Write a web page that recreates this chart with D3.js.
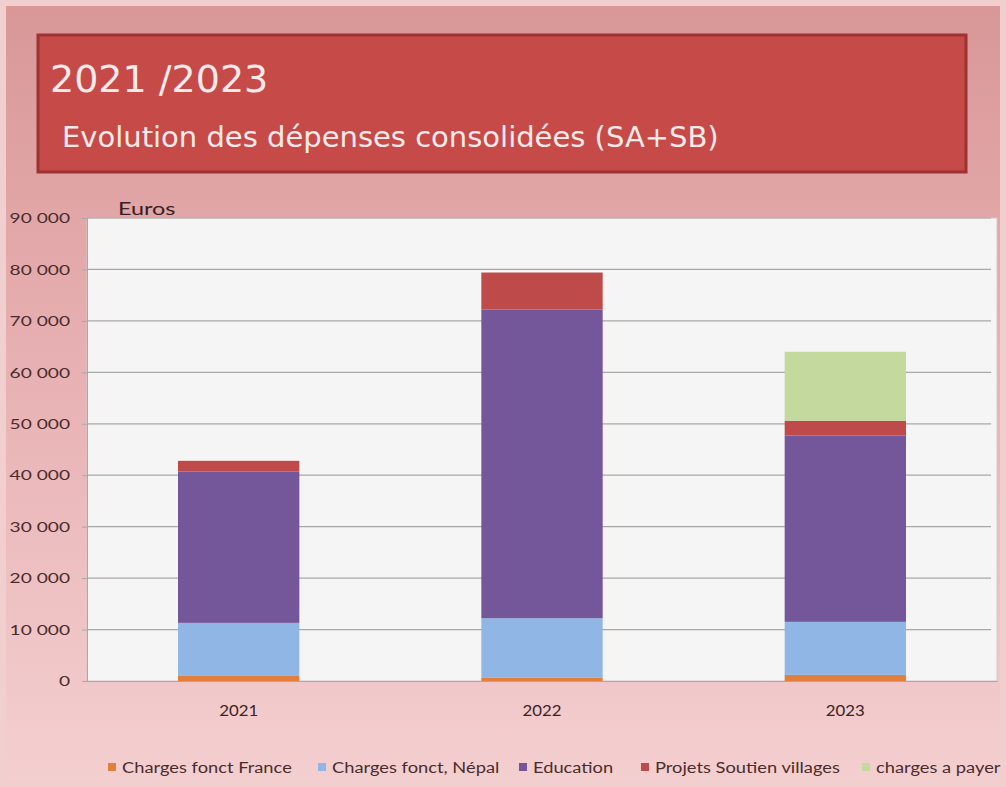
<!DOCTYPE html>
<html>
<head>
<meta charset="utf-8">
<script src="https://cdn.jsdelivr.net/npm/d3@7"></script>
<style>
  body { margin: 0; background: #f3d4d4; }
  svg { display: block; }
</style>
</head>
<body>
<svg width="1006" height="787"></svg>
<script>
//data
const years = ['2021', '2022', '2023'];
const seriesNames = ['Charges fonct France', 'Charges fonct, Népal', 'Education', 'Projets Soutien villages', 'charges a payer'];
const franceVals = [1100, 700, 1200];
const nepalVals = [10200, 11500, 10300];
const educationVals = [29400, 60000, 36200];
const projetsVals = [2100, 7200, 2900];
const aPayerVals = [0, 0, 13400];
const yTicks = [0, 10000, 20000, 30000, 40000, 50000, 60000, 70000, 80000, 90000];
const colors = ['#e37f3c', '#8fb6e4', '#74569a', '#be4b4a', '#c3d99d'];

const svg = d3.select('svg');
const W = 1006, H = 787;

// the source picture is stretched sideways, so text gets a horizontal scale
const wideText = (sel, px, py, sx) => sel.attr('transform', `translate(${px},${py}) scale(${sx},1)`);

// background
const defs = svg.append('defs');
const bg = defs.append('linearGradient').attr('id', 'bg').attr('x1', 0).attr('y1', 0).attr('x2', 0).attr('y2', 1);
bg.append('stop').attr('offset', '0%').attr('stop-color', '#d99797');
bg.append('stop').attr('offset', '45%').attr('stop-color', '#e7b0b2');
bg.append('stop').attr('offset', '100%').attr('stop-color', '#f4cfd0');
svg.append('rect').attr('width', W).attr('height', H).attr('fill', '#f1cfcf');
svg.append('rect').attr('x', 6).attr('y', 6).attr('width', W - 12).attr('height', H - 12).attr('fill', 'url(#bg)');

// title box
svg.append('rect').attr('x', 38).attr('y', 35).attr('width', 928).attr('height', 137)
  .attr('fill', '#c54a48').attr('stroke', '#9c3232').attr('stroke-width', 3);
svg.append('text').attr('x', 50).attr('y', 92).text('2021 /2023')
  .attr('fill', '#fbeaea').attr('font-family', 'DejaVu Sans').attr('font-size', 38);
svg.append('text').attr('x', 62).attr('y', 147).text('Evolution des dépenses consolidées (SA+SB)')
  .attr('fill', '#fbeaea').attr('font-family', 'DejaVu Sans').attr('font-size', 29);

// plot area
const pLeft = 87, pRight = 997, pTop = 218, pBottom = 681;
svg.append('rect').attr('x', pLeft).attr('y', pTop).attr('width', pRight - pLeft).attr('height', pBottom - pTop)
  .attr('fill', '#f5f5f6').attr('stroke', '#d8c8c8');

const x = d3.scaleBand().domain(years).range([pLeft, pRight]).paddingInner(0.6).paddingOuter(0.3);
const y = d3.scaleLinear().domain([0, 90000]).range([pBottom, pTop]);

// gridlines
svg.append('g').selectAll('line').data(yTicks.slice(1)).join('line')
  .attr('x1', pLeft).attr('x2', pRight - 6)
  .attr('y1', d => y(d)).attr('y2', d => y(d))
  .attr('stroke', '#a8a8a8').attr('stroke-width', 1.2);

// y axis
const yAxis = svg.append('g').attr('transform', `translate(${pLeft},0)`)
  .call(d3.axisLeft(y).tickValues(yTicks).tickSize(5).tickPadding(12)
    .tickFormat(d => d3.format(',')(d).replace(/,/g, ' ')));
yAxis.select('.domain').attr('stroke', '#a8a8a8');
yAxis.selectAll('line').attr('stroke', '#a8a8a8');
yAxis.selectAll('text')
  .attr('font-family', 'Lato').attr('font-size', 13.5).attr('fill', '#4a2c2c')
  .attr('x', null).attr('dy', '0.35em')
  .each(function () { wideText(d3.select(this), -17, 0, 1.42); });

// x axis
const xAxis = svg.append('g').attr('transform', `translate(0,${pBottom})`)
  .call(d3.axisBottom(x).tickSize(0).tickPadding(20));
xAxis.select('.domain').attr('stroke', '#a8a8a8').attr('stroke-width', 1.2);
xAxis.selectAll('text').attr('font-family', 'Lato').attr('font-size', 15).attr('fill', '#3a2424')
  .attr('y', null).attr('dy', null)
  .each(function () { wideText(d3.select(this), 0, 35, 1.12); });

// stacked bars
const table = years.map((yr, i) => ({
  year: yr,
  s0: franceVals[i], s1: nepalVals[i], s2: educationVals[i], s3: projetsVals[i], s4: aPayerVals[i]
}));
const stack = d3.stack().keys(['s0', 's1', 's2', 's3', 's4'])(table);

svg.append('g').selectAll('g').data(stack).join('g')
  .attr('fill', (d, i) => colors[i])
  .selectAll('rect').data(d => d).join('rect')
  .attr('x', d => x(d.data.year))
  .attr('width', x.bandwidth())
  .attr('y', d => y(d[1]))
  .attr('height', d => y(d[0]) - y(d[1]));

// unit label
wideText(svg.append('text').text('Euros')
  .attr('font-family', 'Lato').attr('font-size', 18).attr('fill', '#3a2020'), 118, 215, 1.3);

// legend
const legendX = [108, 318, 519, 641, 862];
const legend = svg.append('g').selectAll('g').data(seriesNames).join('g')
  .attr('transform', (d, i) => `translate(${legendX[i]},768)`);
legend.append('rect').attr('x', 0).attr('y', -5).attr('width', 8).attr('height', 8)
  .attr('fill', (d, i) => colors[i]);
legend.append('text').text(d => d)
  .attr('font-family', 'Lato').attr('font-size', 15).attr('fill', '#4a2c2c')
  .each(function () { wideText(d3.select(this), 14, 5, 1.22); });
</script>
</body>
</html>
